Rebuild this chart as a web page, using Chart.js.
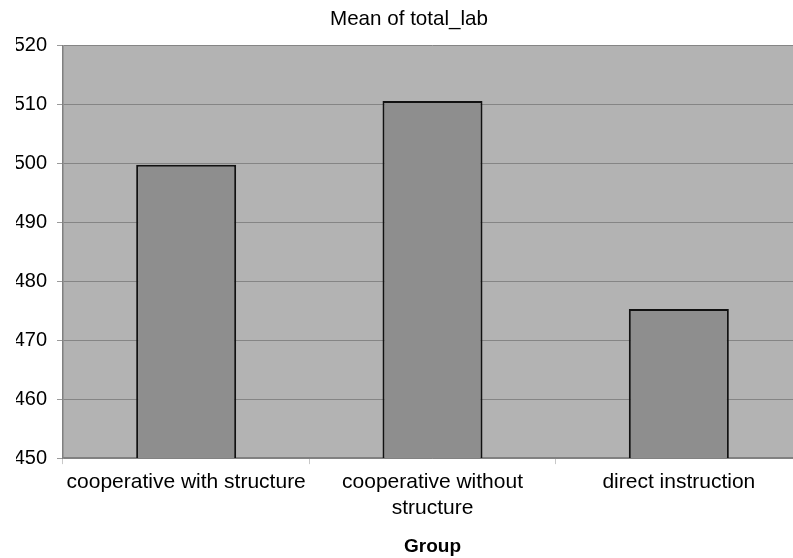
<!DOCTYPE html>
<html>
<head>
<meta charset="utf-8">
<script src="https://cdn.jsdelivr.net/npm/chart.js@4"></script>
<style>
  html, body { margin: 0; padding: 0; background: #ffffff; overflow: hidden; }
  #wrap { width: 820px; height: 558px; position: relative; }
</style>
</head>
<body>
<div id="wrap"><canvas id="c"></canvas></div>
<script>
const categories = [
  ['cooperative with structure'],
  ['cooperative without', 'structure'],
  ['direct instruction']
];
const meanValues = [499.8, 510.6, 475.3];
const chartTitle = 'Mean of total_lab';
const xAxisTitle = 'Group';
const yMin = 450, yMax = 520, yStep = 10;

const plotBg = {
  id: 'plotBg',
  beforeDraw(chart) {
    const a = chart.chartArea, ctx = chart.ctx;
    ctx.save();
    ctx.fillStyle = '#b3b3b3';
    ctx.fillRect(a.left, a.top, a.right - a.left, a.bottom - a.top);
    ctx.restore();
  }
};

new Chart(document.getElementById('c'), {
  type: 'bar',
  data: {
    labels: categories,
    datasets: [{
      data: meanValues,
      backgroundColor: '#8e8e8e',
      borderColor: '#111111',
      borderWidth: 2,
      borderSkipped: false,
      categoryPercentage: 1.0,
      barPercentage: 0.406
    }]
  },
  options: {
    responsive: true,
    maintainAspectRatio: false,
    animation: false,
    layout: { padding: { left: 16, right: 18, top: 0, bottom: 0 } },
    plugins: {
      legend: { display: false },
      tooltip: { enabled: false },
      title: {
        display: true,
        text: chartTitle,
        color: '#000000',
        font: { family: 'Liberation Sans, Arial, sans-serif', size: 20.6, weight: 'normal' },
        padding: { top: 7, bottom: 14 }
      }
    },
    scales: {
      x: {
        grid: {
          display: true,
          offset: true,
          drawOnChartArea: false,
          drawTicks: true,
          tickLength: 6,
          color: '#c8c8c8'
        },
        border: { display: true, color: '#808080', width: 1.5 },
        ticks: {
          color: '#000000',
          padding: 5,
          maxRotation: 0,
          autoSkip: false,
          font: { family: 'Liberation Sans, Arial, sans-serif', size: 21, lineHeight: 1.24 }
        },
        title: {
          display: true,
          text: xAxisTitle,
          color: '#000000',
          font: { family: 'Liberation Sans, Arial, sans-serif', size: 19, weight: 'bold' },
          padding: { top: 9, bottom: 0 }
        }
      },
      y: {
        min: yMin,
        max: yMax,
        afterFit(scale) { scale.width = 47; },
        grid: {
          color: '#858585',
          lineWidth: 1,
          drawTicks: true,
          tickLength: 6,
          tickColor: '#9a9a9a'
        },
        border: { display: true, color: '#808080', width: 1.5 },
        ticks: {
          stepSize: yStep,
          color: '#000000',
          padding: 10,
          font: { family: 'Liberation Sans, Arial, sans-serif', size: 20 }
        }
      }
    }
  },
  plugins: [plotBg]
});
</script>
</body>
</html>
